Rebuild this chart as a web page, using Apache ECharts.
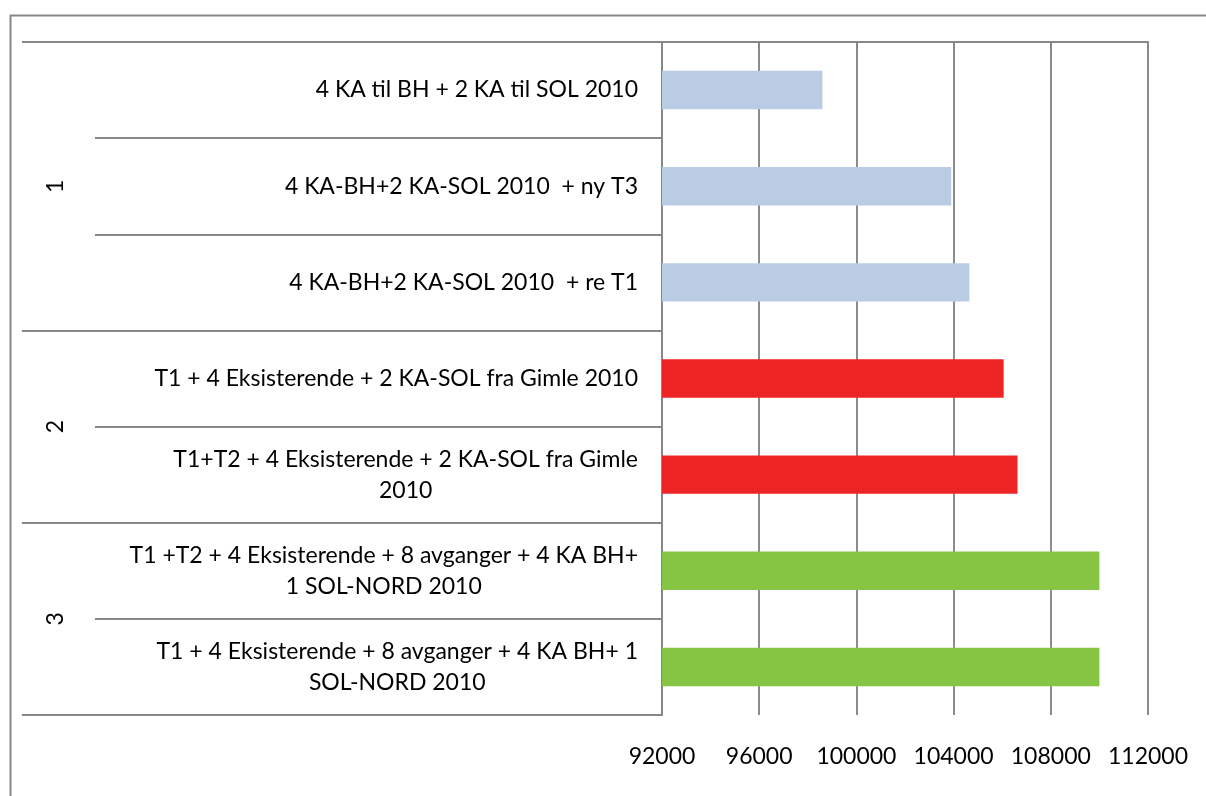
<!DOCTYPE html>
<html>
<head>
<meta charset="utf-8">
<script src="https://cdn.jsdelivr.net/npm/echarts@6/dist/echarts.min.js"></script>
<style>
html,body{margin:0;padding:0;background:#fff;}
#c{width:1206px;height:796px;}
</style>
</head>
<body>
<div id="c"></div>
<script>
// ---- data ----
const categories = [
  '4 KA til BH + 2 KA til SOL 2010',
  '4 KA-BH+2 KA-SOL 2010  + ny T3',
  '4 KA-BH+2 KA-SOL 2010  + re T1',
  'T1 + 4 Eksisterende + 2 KA-SOL fra Gimle 2010',
  'T1+T2 + 4 Eksisterende + 2 KA-SOL fra Gimle\n2010',
  'T1 +T2 + 4 Eksisterende + 8 avganger + 4 KA BH+\n1 SOL-NORD 2010',
  'T1 + 4 Eksisterende + 8 avganger + 4 KA BH+ 1\nSOL-NORD 2010'
];
const values = [98600, 103900, 104650, 106060, 106630, 110000, 110000];
const groupNames = ['1', '2', '3'];
const groupOf = [0, 0, 0, 1, 1, 2, 2];
const groupColors = ['#b9cce4', '#ee2424', '#86c544'];
const xTicks = [92000, 96000, 100000, 104000, 108000, 112000];

// ---- derived ----
const groupStart = groupNames.map((g, gi) => groupOf.indexOf(gi));
const groupSize = groupNames.map((g, gi) => groupOf.filter(v => v === gi).length);
const groupCenter = groupNames.map((g, gi) => groupStart[gi] + groupSize[gi] / 2);

const LINE = '#878787';
const FONT = 'Lato';
const FS = 23;

const chart = echarts.init(document.getElementById('c'), null, {renderer: 'canvas'});
chart.setOption({
  backgroundColor: '#fff',
  animation: false,
  graphic: [{
    type: 'rect', left: 8, top: 13, z: -10,
    shape: {x: 0, y: 0, width: 1400, height: 1000},
    style: {fill: 'none', stroke: LINE, lineWidth: 2}
  }],
  grid: {left: 662, right: 58, top: 42, bottom: 81, containLabel: false, outerBoundsMode: 'none'},
  xAxis: {
    type: 'value',
    min: xTicks[0], max: xTicks[xTicks.length - 1],
    interval: xTicks[1] - xTicks[0],
    axisLine: {show: true, lineStyle: {color: LINE, width: 2}},
    axisTick: {show: true, length: 7, lineStyle: {color: LINE, width: 2}},
    splitLine: {show: true, lineStyle: {color: '#8c8c8c', width: 2}},
    axisLabel: {fontFamily: FONT, fontSize: FS, color: '#000', margin: 30, formatter: v => String(v)}
  },
  yAxis: [
    {
      type: 'category', position: 'left', inverse: true, data: categories,
      axisLine: {show: true, lineStyle: {color: LINE, width: 2}},
      axisTick: {show: true, length: 567, lineStyle: {color: LINE, width: 2}},
      axisLabel: {
        margin: 24, align: 'right', fontFamily: FONT, fontSize: FS, color: '#000', lineHeight: 31,
        formatter: v => v.split('\n').map(l => '{c|' + l + '}').join('\n'),
        rich: {c: {align: 'center', fontFamily: FONT, fontSize: FS, color: '#000', lineHeight: 31}}
      },
      splitLine: {show: false}
    },
    {
      type: 'category', position: 'left', offset: 0, inverse: true, data: categories,
      axisLine: {show: false},
      axisTick: {show: true, length: 640, lineStyle: {color: LINE, width: 2},
        interval: (i) => groupStart.indexOf(i) >= 0},
      axisLabel: {show: false},
      splitLine: {show: false}
    },
    {
      type: 'value', position: 'left', offset: 0, inverse: true, min: 0, max: categories.length, interval: 0.5,
      axisLine: {show: false}, axisTick: {show: false}, splitLine: {show: false},
      axisLabel: {
        rotate: 90, margin: 595, fontFamily: FONT, fontSize: FS, color: '#000',
        showMinLabel: true, showMaxLabel: true, hideOverlap: false,
        formatter: v => { const i = groupCenter.indexOf(v); return i >= 0 ? groupNames[i] : ''; }
      }
    }
  ],
  series: [{
    type: 'bar',
    yAxisIndex: 0,
    barWidth: '40%',
    data: values.map((v, i) => ({value: v, itemStyle: {color: groupColors[groupOf[i]]}}))
  }]
});
</script>
</body>
</html>
